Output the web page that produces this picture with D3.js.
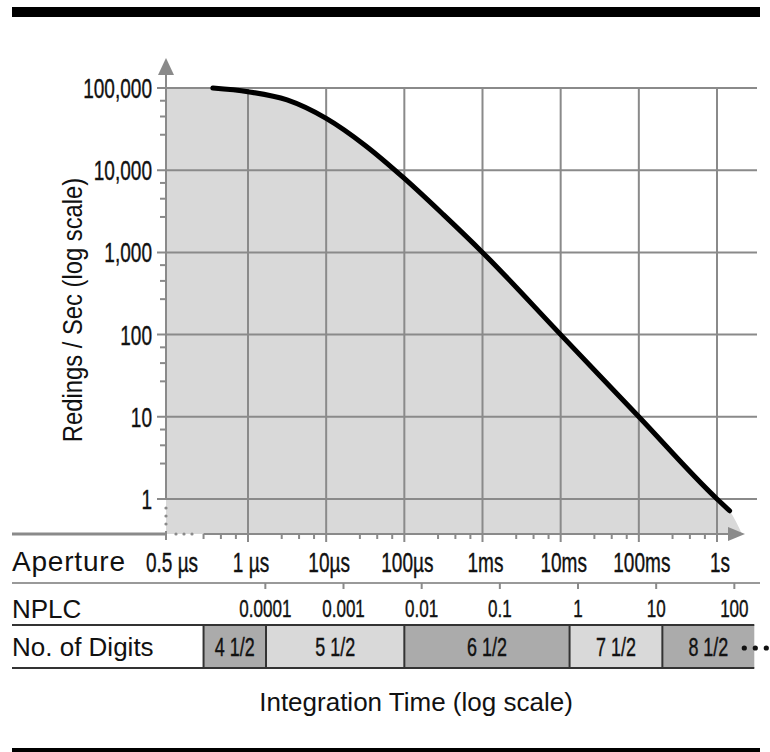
<!DOCTYPE html>
<html>
<head>
<meta charset="utf-8">
<script src="https://cdn.jsdelivr.net/npm/d3@7"></script>
<style>
  body { margin: 0; background: #fff; }
  svg { display: block; }
</style>
</head>
<body>
<svg id="chart"></svg>
<script>
// Reading rate vs integration time (DMM style chart)

// ---- data ----
const apertureTicks = [1e-6, 1e-5, 1e-4, 1e-3, 1e-2, 1e-1, 1];
const apertureLabels = ["1 µs", "10µs", "100µs", "1ms", "10ms", "100ms", "1s"];
const originLabel = "0.5 µs";

const rateTicks = [1, 10, 100, 1000, 10000, 100000];
const rateLabels = ["1", "10", "100", "1,000", "10,000", "100,000"];
const minorSteps = [2.7, 4.5, 7];

// curve: integration time (s) -> readings / sec
const curveTime = [0.355e-6, 1e-6, 3.16e-6, 1e-5, 3.16e-5, 1e-4, 3.16e-4, 1e-3, 1e-2, 1e-1, 1, 1.45];
const curveRate = [100000, 90200, 71600, 42700, 20000, 7940, 2880, 1000, 100, 10, 1, 0.72];
const fillTail = [2.1, 0.37];

const nplcTicks = [0.0001, 0.001, 0.01, 0.1, 1, 10, 100];
const nplcLabels = ["0.0001", "0.001", "0.01", "0.1", "1", "10", "100"];
const lineFreq = 60;

const digitLabels = ["4 1/2", "5 1/2", "6 1/2", "7 1/2", "8 1/2"];
const digitEdges = [2.7e-7, 1.7e-6, 1e-4, 1.3e-2, 0.2, 3];

// ---- layout ----
const W = 770, H = 752;
const axisX = 166, baseY = 534;
const gray = "#8a8a8a";
const font = "'Liberation Sans', Arial, sans-serif";

const svg = d3.select("#chart").attr("width", W).attr("height", H);

const x = d3.scaleLog().domain([1e-6, 1]).range([248, 717]);
const y = d3.scaleLog().domain([1, 1e5]).range([499, 88]);

// condensed text helper (regular font squeezed horizontally, a touch heavier)
function condText(parent, tx, ty, str, size, anchor, sx) {
    return parent.append("text")
        .attr("transform", `translate(${tx},${ty}) scale(${sx || 0.68},1)`)
        .attr("text-anchor", anchor || "middle")
        .style("font-family", font)
        .style("font-size", size + "px")
        .attr("fill", "#111")
        .attr("stroke", "#111")
        .attr("stroke-width", 0.4)
        .text(str);
}

// top / bottom rules
svg.append("rect").attr("x", 12).attr("y", 7).attr("width", 748).attr("height", 10).attr("fill", "#000");
svg.append("rect").attr("x", 12).attr("y", 748).attr("width", 748).attr("height", 10).attr("fill", "#000");

// shaded area under curve
const pts = [[axisX, y(1e5)]]
    .concat(curveTime.map((t, i) => [x(t), y(curveRate[i])]))
    .concat([[x(fillTail[0]), y(fillTail[1])]]);

svg.append("path")
    .datum(pts)
    .attr("fill", "#d9d9d9")
    .attr("d", d3.area().x(d => d[0]).y0(baseY).y1(d => d[1]).curve(d3.curveMonotoneX));

// grid
const grid = svg.append("g").attr("stroke", gray).attr("stroke-width", 2);
grid.selectAll(".h").data(rateTicks).join("line")
    .attr("x1", axisX - 9).attr("x2", 757)
    .attr("y1", d => y(d)).attr("y2", d => y(d));
grid.selectAll(".v").data(apertureTicks).join("line")
    .attr("x1", d => x(d)).attr("x2", d => x(d))
    .attr("y1", y(1e5)).attr("y2", baseY + 8);

// minor ticks
const yMinor = [];
rateTicks.slice(0, -1).forEach(d => minorSteps.forEach(m => yMinor.push(d * m)));
grid.selectAll(".ym").data(yMinor).join("line")
    .attr("x1", axisX - 6).attr("x2", axisX)
    .attr("y1", d => y(d)).attr("y2", d => y(d));

const xMinor = [];
[1e-7].concat(apertureTicks.slice(0, -1)).forEach(d => minorSteps.forEach(m => xMinor.push(d * m)));
grid.selectAll(".xm").data(xMinor).join("line")
    .attr("x1", d => x(d)).attr("x2", d => x(d))
    .attr("y1", baseY).attr("y2", baseY + 5);

// axes
grid.append("line").attr("x1", axisX).attr("x2", axisX).attr("y1", 74).attr("y2", y(1));
grid.append("line").attr("x1", x(xMinor[0])).attr("x2", 730).attr("y1", baseY).attr("y2", baseY);
svg.append("line").attr("x1", 12).attr("x2", axisX).attr("y1", baseY).attr("y2", baseY)
    .attr("stroke", gray).attr("stroke-width", 3);
grid.append("line").attr("x1", axisX).attr("x2", axisX).attr("y1", baseY - 3).attr("y2", baseY + 6);

// axis break dots
svg.selectAll(".bx").data([10, 18, 26]).join("circle")
    .attr("cx", d => axisX + d).attr("cy", baseY).attr("r", 1.6).attr("fill", gray);
svg.selectAll(".by").data([9, 17, 25]).join("circle")
    .attr("cx", axisX).attr("cy", d => y(1) + d).attr("r", 1.6).attr("fill", gray);

// arrows
svg.append("path").attr("fill", gray)
    .attr("d", `M${axisX - 8},75 L${axisX + 8},75 L${axisX},58 Z`);
svg.append("path").attr("fill", gray)
    .attr("d", `M728,${baseY - 7} L728,${baseY + 7} L745,${baseY} Z`);

// curve
svg.append("path")
    .datum(curveTime.map((t, i) => [x(t), y(curveRate[i])]))
    .attr("fill", "none")
    .attr("stroke", "#000")
    .attr("stroke-width", 5)
    .attr("stroke-linecap", "round")
    .attr("d", d3.line().curve(d3.curveMonotoneX));

// y labels
rateTicks.forEach((d, i) => condText(svg, 152, y(d) + 10, rateLabels[i], 28, "end"));

svg.append("text")
    .attr("transform", `translate(82,310) rotate(-90) scale(0.85,1)`)
    .attr("text-anchor", "middle")
    .style("font-family", font)
    .style("font-size", "28px")
    .attr("fill", "#111")
    .text("Redings / Sec (log scale)");

// aperture row
svg.append("text").attr("x", 12).attr("y", 571)
    .style("font-family", font).style("font-size", "28px").style("letter-spacing", "0.8px")
    .attr("fill", "#111").text("Aperture");
condText(svg, axisX + 6, 572, originLabel, 28);
apertureTicks.forEach((d, i) => condText(svg, x(d) + 3, 572, apertureLabels[i], 28));

svg.append("line").attr("x1", 12).attr("x2", 760).attr("y1", 583).attr("y2", 583)
    .attr("stroke", "#999").attr("stroke-width", 2);

// NPLC row
svg.append("text").attr("x", 12).attr("y", 618)
    .style("font-family", font).style("font-size", "26px").attr("fill", "#111").text("NPLC");
svg.selectAll(".nt").data(nplcTicks).join("line")
    .attr("x1", d => x(d / lineFreq)).attr("x2", d => x(d / lineFreq))
    .attr("y1", 583).attr("y2", 589).attr("stroke", gray).attr("stroke-width", 2);
nplcTicks.forEach((d, i) => condText(svg, x(d / lineFreq), 617, nplcLabels[i], 24, "middle", 0.71));

// digits row
svg.append("text").attr("x", 12).attr("y", 656)
    .style("font-family", font).style("font-size", "26px").attr("fill", "#111").text("No. of Digits");

const cells = svg.append("g");
digitLabels.forEach((lab, i) => {
    const x0 = x(digitEdges[i]), x1 = x(digitEdges[i + 1]);
    cells.append("rect").attr("x", x0).attr("y", 625).attr("width", x1 - x0).attr("height", 43)
        .attr("fill", i % 2 === 0 ? "#ababab" : "#d9d9d9");
    condText(cells, (x0 + x1) / 2, 656, lab, 26, "middle", 0.69);
});
cells.selectAll(".edge").data(digitEdges.slice(0, -1)).join("line")
    .attr("x1", d => x(d)).attr("x2", d => x(d)).attr("y1", 625).attr("y2", 668)
    .attr("stroke", "#333").attr("stroke-width", 2);
[625, 668].forEach(yy => cells.append("line")
    .attr("x1", 12).attr("x2", x(digitEdges[digitEdges.length - 1])).attr("y1", yy).attr("y2", yy)
    .attr("stroke", "#333").attr("stroke-width", 2));
cells.selectAll(".dot").data([0, 11, 22]).join("circle")
    .attr("cx", d => x(digitEdges[digitEdges.length - 1]) - 10 + d).attr("cy", 648).attr("r", 2.6).attr("fill", "#111");

// x title
svg.append("text").attr("x", 416).attr("y", 711).attr("text-anchor", "middle")
    .style("font-family", font).style("font-size", "26px").attr("fill", "#111")
    .text("Integration Time (log scale)");
</script>
</body>
</html>
